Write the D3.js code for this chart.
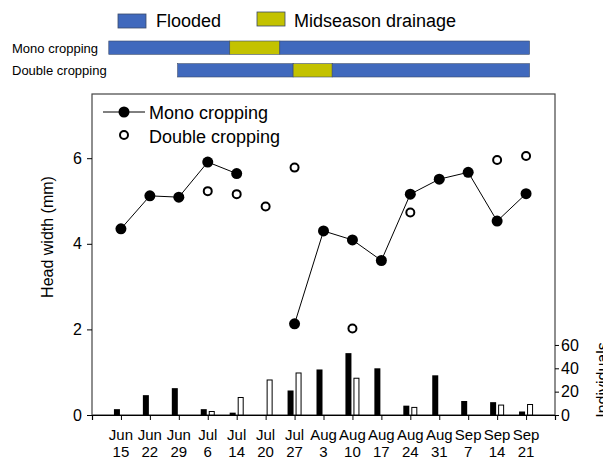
<!DOCTYPE html>
<html>
<head>
<meta charset="utf-8">
<script src="https://cdn.jsdelivr.net/npm/d3@7"></script>
<style>
  body { margin: 0; background: #fff; }
  svg { font-family: "Liberation Sans", Arial, sans-serif; display: block; }
</style>
</head>
<body>
<svg width="603" height="458"></svg>
<script>
// sampling dates (x categories)
const dates = ["Jun 15", "Jun 22", "Jun 29", "Jul 6", "Jul 14", "Jul 20", "Jul 27",
  "Aug 3", "Aug 10", "Aug 17", "Aug 24", "Aug 31", "Sep 7", "Sep 14", "Sep 21"];

// head width (mm), left axis
const monoWidth = [4.35, 5.12, 5.09, 5.91, 5.64, null, 2.13, 4.30, 4.09, 3.61, 5.16, 5.51, 5.67, 4.53, 5.17];
const doubleWidth = [null, null, null, 5.23, 5.16, 4.87, 5.78, null, 2.02, null, 4.73, null, null, 5.96, 6.05];

// individuals, right axis
const monoCount = [5, 17, 23, 5, 2, 0, 21, 39, 53, 40, 8, 34, 12, 11, 3];
const doubleCount = [0, 0, 0, 3, 15, 30, 36, 0, 31.5, 0, 6.5, 0, 0, 8.5, 9];

const widthTicks = [0, 2, 4, 6];
const countTicks = [0, 20, 40, 60];

// water regime, in sampling-date index units
const regimeRows = ["Mono cropping", "Double cropping"];
const monoRegime = [["Flooded", -0.42, 3.76], ["Midseason drainage", 3.76, 5.49], ["Flooded", 5.49, 14.12]];
const doubleRegime = [["Flooded", 1.96, 5.95], ["Midseason drainage", 5.95, 7.30], ["Flooded", 7.30, 14.12]];
const regimeKeys = ["Flooded", "Midseason drainage"];
const regimeColors = ["#4069bd", "#c3c200"];

const svg = d3.select("svg");

const plotL = 92, plotR = 555, plotT = 94, plotB = 415;

const x = d3.scalePoint().domain(dates).range([plotL, plotR]).padding(1);
const yW = d3.scaleLinear().domain([0, 7.5]).range([plotB, plotT]);
const yC = d3.scaleLinear().domain([0, 275]).range([plotB, plotT]);
const sub = d3.scaleBand().domain(["mono", "double"]).range([-7, 7]).paddingInner(0.25);
const idxX = d3.scaleLinear().domain([0, dates.length - 1]).range([x(dates[0]), x(dates[dates.length - 1])]);
const color = d3.scaleOrdinal().domain(regimeKeys).range(regimeColors);

// ---- regime legend + bars on top
const keyG = svg.append("g");
keyG.selectAll("rect")
  .data(regimeKeys)
  .enter()
  .append("rect")
  .attr("x", (d, i) => [118, 257][i])
  .attr("y", (d, i) => [14, 12][i])
  .attr("width", 28)
  .attr("height", 14)
  .attr("fill", d => color(d))
  .attr("stroke", "#3a4a6a")
  .attr("stroke-width", 0.8);
keyG.selectAll("text")
  .data(regimeKeys)
  .enter()
  .append("text")
  .attr("x", (d, i) => [156, 294][i])
  .attr("y", 27)
  .attr("font-size", 18)
  .text(d => d);

const rowY = d3.scaleBand().domain(regimeRows).range([41, 77]).paddingInner(0.414);
[monoRegime, doubleRegime].forEach((segs, r) => {
  const g = svg.append("g");
  g.append("text")
    .attr("x", 12)
    .attr("y", rowY(regimeRows[r]) + rowY.bandwidth() / 2 + 5)
    .attr("font-size", 13)
    .text(regimeRows[r]);
  g.selectAll("rect")
    .data(segs)
    .enter()
    .append("rect")
    .attr("x", d => idxX(d[1]))
    .attr("y", rowY(regimeRows[r]))
    .attr("width", d => idxX(d[2]) - idxX(d[1]))
    .attr("height", rowY.bandwidth())
    .attr("fill", d => color(d[0]))
    .attr("stroke", "#3a4a6a")
    .attr("stroke-width", 0.6);
});

// ---- main plot
svg.append("rect")
  .attr("x", plotL)
  .attr("y", plotT)
  .attr("width", plotR - plotL)
  .attr("height", plotB - plotT)
  .attr("fill", "none")
  .attr("stroke", "#444")
  .attr("stroke-width", 1.2);

const axisL = svg.append("g")
  .attr("transform", `translate(${plotL},0)`)
  .call(d3.axisLeft(yW).tickValues(widthTicks).tickSize(5).tickPadding(5));
const axisR = svg.append("g")
  .attr("transform", `translate(${plotR},0)`)
  .call(d3.axisRight(yC).tickValues(countTicks).tickSize(4).tickPadding(2));
const axisB = svg.append("g")
  .attr("transform", `translate(0,${plotB})`)
  .call(d3.axisBottom(x).tickSize(5).tickFormat(""));

[axisL, axisR].forEach(a => {
  a.select(".domain").remove();
  a.selectAll("text").attr("font-size", 16).attr("font-family", "Liberation Sans, Arial, sans-serif").attr("fill", "#000");
});
axisB.select(".domain").attr("stroke", "#000").attr("stroke-width", 1.2);

// two-line date labels
const xl = svg.append("g");
dates.forEach(d => {
  const parts = d.split(" ");
  const t = xl.append("text")
    .attr("x", x(d))
    .attr("text-anchor", "middle")
    .attr("font-size", 15);
  t.append("tspan").attr("x", x(d)).attr("y", 440).text(parts[0]);
  t.append("tspan").attr("x", x(d)).attr("y", 456.5).text(parts[1]);
});

svg.append("text")
  .attr("transform", "translate(53,237) rotate(-90)")
  .attr("text-anchor", "middle")
  .attr("font-size", 16)
  .text("Head width (mm)");

svg.append("text")
  .attr("transform", "translate(608,380) rotate(-90)")
  .attr("text-anchor", "middle")
  .attr("font-size", 16)
  .text("Individuals");

// bars
svg.append("g")
  .selectAll("rect")
  .data(dates.map((d, i) => ({ d, v: monoCount[i] })).filter(e => e.v > 0))
  .enter()
  .append("rect")
  .attr("x", e => x(e.d) + sub("mono"))
  .attr("y", e => yC(e.v))
  .attr("width", sub.bandwidth())
  .attr("height", e => plotB - yC(e.v))
  .attr("fill", "#000");

svg.append("g")
  .selectAll("rect")
  .data(dates.map((d, i) => ({ d, v: doubleCount[i] })).filter(e => e.v > 0))
  .enter()
  .append("rect")
  .attr("x", e => x(e.d) + sub("double") + 0.5)
  .attr("y", e => yC(e.v))
  .attr("width", sub.bandwidth() - 1)
  .attr("height", e => plotB - yC(e.v))
  .attr("fill", "#fff")
  .attr("stroke", "#000")
  .attr("stroke-width", 1);

// mono line (broken where missing)
const line = d3.line()
  .defined(d => d.v != null)
  .x(d => x(d.d))
  .y(d => yW(d.v));
const monoPts = dates.map((d, i) => ({ d, v: monoWidth[i] }));
const dblPts = dates.map((d, i) => ({ d, v: doubleWidth[i] }));

svg.append("path")
  .datum(monoPts)
  .attr("d", line)
  .attr("fill", "none")
  .attr("stroke", "#000")
  .attr("stroke-width", 1);

svg.append("g")
  .selectAll("circle")
  .data(monoPts.filter(p => p.v != null))
  .enter()
  .append("circle")
  .attr("cx", p => x(p.d))
  .attr("cy", p => yW(p.v))
  .attr("r", 5.5)
  .attr("fill", "#000");

svg.append("g")
  .selectAll("circle")
  .data(dblPts.filter(p => p.v != null))
  .enter()
  .append("circle")
  .attr("cx", p => x(p.d))
  .attr("cy", p => yW(p.v))
  .attr("r", 4)
  .attr("fill", "#fff")
  .attr("stroke", "#000")
  .attr("stroke-width", 2);

// in-plot legend
const lg = svg.append("g");
lg.append("line").attr("x1", 103).attr("x2", 145).attr("y1", 112).attr("y2", 112).attr("stroke", "#000");
lg.append("circle").attr("cx", 124).attr("cy", 112).attr("r", 5.5).attr("fill", "#000");
lg.append("circle").attr("cx", 124).attr("cy", 135).attr("r", 4).attr("fill", "#fff").attr("stroke", "#000").attr("stroke-width", 2);
lg.append("text").attr("x", 149).attr("y", 119).attr("font-size", 18).text("Mono cropping");
lg.append("text").attr("x", 149).attr("y", 142.5).attr("font-size", 18).text("Double cropping");
</script>
</body>
</html>
